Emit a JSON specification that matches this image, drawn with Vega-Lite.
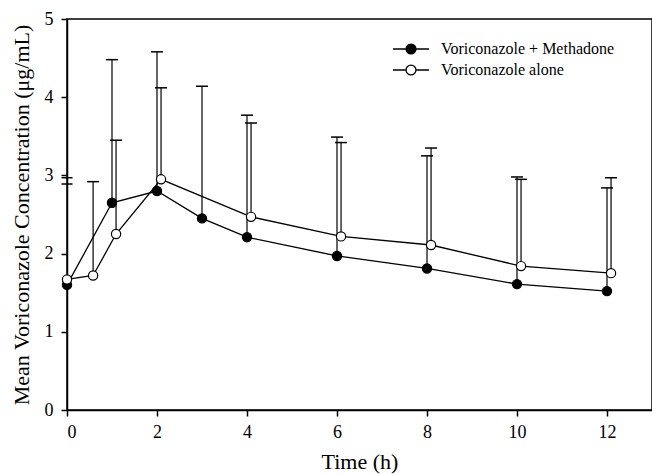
{
  "$schema": "https://vega.github.io/schema/vega-lite/v6.json",
  "width": 585,
  "height": 391,
  "autosize": "none",
  "padding": {"left": 67, "top": 19, "right": 0, "bottom": 64},
  "background": "white",
  "config": {
    "font": "Liberation Serif",
    "view": {"stroke": "black", "strokeWidth": 1.5},
    "axis": {
      "grid": false,
      "domainColor": "black",
      "domainWidth": 1.5,
      "tickColor": "black",
      "tickWidth": 1.5,
      "tickSize": 6,
      "labelFont": "Liberation Serif",
      "labelFontSize": 18,
      "labelColor": "black",
      "titleFont": "Liberation Serif",
      "titleFontSize": 22,
      "titleFontWeight": "normal",
      "titleColor": "black"
    }
  },
  "datasets": {
    "pk": [
      {"series": "Voriconazole + Methadone", "t": 0, "mean": 1.6, "upper": null},
      {"series": "Voriconazole + Methadone", "t": 1, "mean": 2.65, "upper": 4.48},
      {"series": "Voriconazole + Methadone", "t": 2, "mean": 2.8, "upper": 4.58},
      {"series": "Voriconazole + Methadone", "t": 3, "mean": 2.45, "upper": 4.14},
      {"series": "Voriconazole + Methadone", "t": 4, "mean": 2.21, "upper": 3.77},
      {"series": "Voriconazole + Methadone", "t": 6, "mean": 1.97, "upper": 3.49},
      {"series": "Voriconazole + Methadone", "t": 8, "mean": 1.81, "upper": 3.25},
      {"series": "Voriconazole + Methadone", "t": 10, "mean": 1.61, "upper": 2.98},
      {"series": "Voriconazole + Methadone", "t": 12, "mean": 1.52, "upper": 2.84},
      {"series": "Voriconazole alone", "t": 0, "mean": 1.67, "upper": null},
      {"series": "Voriconazole alone", "t": 0.58, "mean": 1.72, "upper": 2.92},
      {"series": "Voriconazole alone", "t": 1.09, "mean": 2.25, "upper": 3.45},
      {"series": "Voriconazole alone", "t": 2.09, "mean": 2.95, "upper": 4.12},
      {"series": "Voriconazole alone", "t": 4.09, "mean": 2.47, "upper": 3.67},
      {"series": "Voriconazole alone", "t": 6.09, "mean": 2.22, "upper": 3.42},
      {"series": "Voriconazole alone", "t": 8.09, "mean": 2.11, "upper": 3.35},
      {"series": "Voriconazole alone", "t": 10.09, "mean": 1.84, "upper": 2.95},
      {"series": "Voriconazole alone", "t": 12.09, "mean": 1.75, "upper": 2.97}
    ],
    "brk": [
      {"t": 0, "v": 2.89},
      {"t": 0, "v": 2.97}
    ]
  },
  "layer": [
    {
      "data": {"name": "pk"},
      "transform": [{"filter": "isValid(datum.upper)"}],
      "mark": {"type": "rule", "color": "black", "strokeWidth": 1.2},
      "encoding": {
        "x": {"field": "t", "type": "quantitative", "scale": {"domain": [0, 13], "nice": false, "zero": false},
              "axis": {"values": [0, 2, 4, 6, 8, 10, 12], "format": "d", "title": "Time (h)", "labelPadding": 7, "titlePadding": 10}},
        "y": {"field": "mean", "type": "quantitative", "scale": {"domain": [0, 5], "nice": false},
              "axis": {"values": [0, 1, 2, 3, 4, 5], "format": "d", "title": "Mean Voriconazole Concentration (μg/mL)", "labelPadding": 8, "titlePadding": 11}},
        "y2": {"field": "upper"}
      }
    },
    {
      "data": {"name": "pk"},
      "transform": [{"filter": "isValid(datum.upper)"}],
      "mark": {"type": "tick", "color": "black", "orient": "horizontal", "size": 12, "thickness": 1.5, "opacity": 1},
      "encoding": {
        "x": {"field": "t", "type": "quantitative"},
        "y": {"field": "upper", "type": "quantitative"}
      }
    },
    {
      "data": {"name": "pk"},
      "mark": {"type": "line", "color": "black", "strokeWidth": 1.3},
      "encoding": {
        "x": {"field": "t", "type": "quantitative"},
        "y": {"field": "mean", "type": "quantitative"},
        "detail": {"field": "series"}
      }
    },
    {
      "data": {"name": "pk"},
      "mark": {"type": "point", "shape": "circle", "filled": true, "stroke": "black", "strokeWidth": 1.2, "size": 85, "opacity": 1},
      "encoding": {
        "x": {"field": "t", "type": "quantitative"},
        "y": {"field": "mean", "type": "quantitative"},
        "fill": {
          "field": "series", "type": "nominal",
          "scale": {"domain": ["Voriconazole + Methadone", "Voriconazole alone"], "range": ["black", "white"]},
          "legend": {
            "title": null,
            "orient": "none",
            "legendX": 334,
            "legendY": 20,
            "padding": 0,
            "symbolType": "M-2,0L-0.55,0M0.55,0L2,0M-0.55,0A0.55,0.55 0 1,1 0.55,0A0.55,0.55 0 1,1 -0.55,0Z",
            "symbolSize": 324,
            "symbolStrokeColor": "black",
            "symbolStrokeWidth": 1.3,
            "symbolOpacity": 1,
            "labelFont": "Liberation Serif",
            "labelFontSize": 16,
            "labelColor": "black",
            "labelOffset": 20,
            "rowPadding": 3,
            "labelLimit": 300
          }
        }
      }
    },
    {
      "data": {"name": "brk"},
      "mark": {"type": "tick", "color": "black", "orient": "horizontal", "size": 11, "thickness": 1.5, "opacity": 1},
      "encoding": {
        "x": {"field": "t", "type": "quantitative"},
        "y": {"field": "v", "type": "quantitative"}
      }
    }
  ]
}
